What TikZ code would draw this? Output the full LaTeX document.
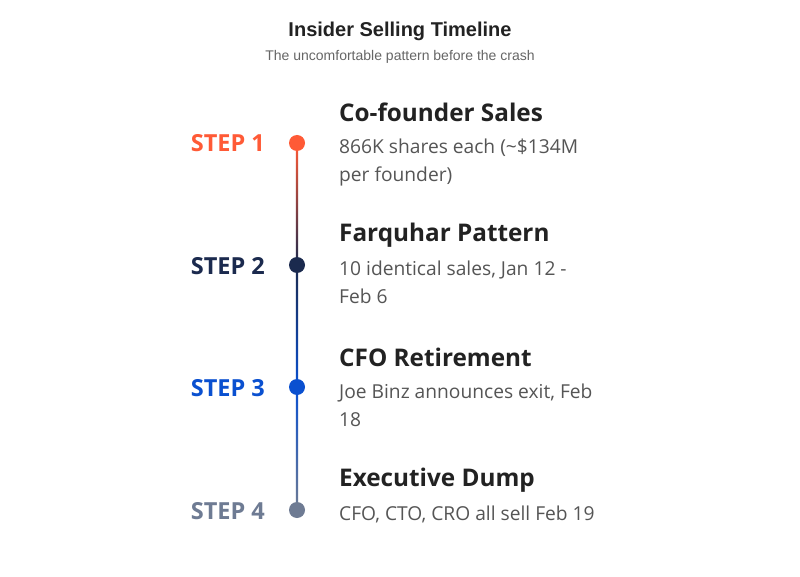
\documentclass[tikz,border=0pt]{standalone}
\usepackage{fontspec}
\usetikzlibrary{calc}
\setmainfont{Open Sans}
\newfontfamily\titlefont{Liberation Sans}
\definecolor{cone}{HTML}{FF5A36}
\definecolor{ctwo}{HTML}{1B2A4E}
\definecolor{cthree}{HTML}{0A50D0}
\definecolor{cfour}{HTML}{6E7B93}
\definecolor{headc}{HTML}{222222}
\definecolor{descc}{HTML}{555555}
\begin{document}
\begin{tikzpicture}[x=1pt,y=-1pt,
  steplabel/.style={anchor=east,font=\fontsize{23.5}{27}\selectfont\bfseries,inner sep=0pt},
  dot/.style={circle,fill=#1,minimum size=16pt,inner sep=0pt},
  heading/.style={anchor=west,font=\fontsize{24.3}{28}\selectfont\bfseries,text=headc,inner sep=0pt},
  desc/.style={anchor=north west,font=\fontsize{19.2}{28}\selectfont,text=descc,inner sep=0pt,align=left}]
\useasboundingbox[fill=white] (0,0) rectangle (800,577);
\node[font=\titlefont\fontsize{20}{24}\selectfont\bfseries,text=headc] (title) at (400,31) {Insider Selling Timeline};
\node[font=\titlefont\fontsize{14}{17}\selectfont,text=black!60] (sub) at (400,57) {The uncomfortable pattern before the crash};
\coordinate (p1) at (297,143);
\coordinate (p2) at (297,265);
\coordinate (p3) at (297,387);
\coordinate (p4) at (297,510);
\shade[top color=cone,bottom color=ctwo] ($(p1)+(-1.2,0)$) rectangle ($(p2)+(1.2,0)$);
\shade[top color=ctwo,bottom color=cthree] ($(p2)+(-1.2,0)$) rectangle ($(p3)+(1.2,0)$);
\shade[top color=cthree,bottom color=cfour] ($(p3)+(-1.2,0)$) rectangle ($(p4)+(1.2,0)$);
\node[dot=cone] (d1) at (p1) {};
\node[dot=ctwo] (d2) at (p2) {};
\node[dot=cthree] (d3) at (p3) {};
\node[dot=cfour] (d4) at (p4) {};
\node[steplabel,text=cone] (s1) at (265,143) {STEP 1};
\node[steplabel,text=ctwo] (s2) at (265,266) {STEP 2};
\node[steplabel,text=cthree] (s3) at (265,388) {STEP 3};
\node[steplabel,text=cfour] (s4) at (265,511) {STEP 4};
\node[heading] (h1) at (339,112) {Co-founder Sales};
\node[heading] (h2) at (339,235) {Farquhar Pattern};
\node[heading] (h3) at (339,357) {CFO Retirement};
\node[heading] (h4) at (339,480) {Executive Dump};
\node[desc] (t1) at (339,139) {866K shares each (\textasciitilde\$134M\\per founder)};
\node[desc] (t2) at (339,261) {10 identical sales, Jan 12 -\\Feb 6};
\node[desc] (t3) at (339,384) {Joe Binz announces exit, Feb\\18};
\node[desc] (t4) at (339,506) {CFO, CTO, CRO all sell Feb 19};
\end{tikzpicture}
\end{document}
